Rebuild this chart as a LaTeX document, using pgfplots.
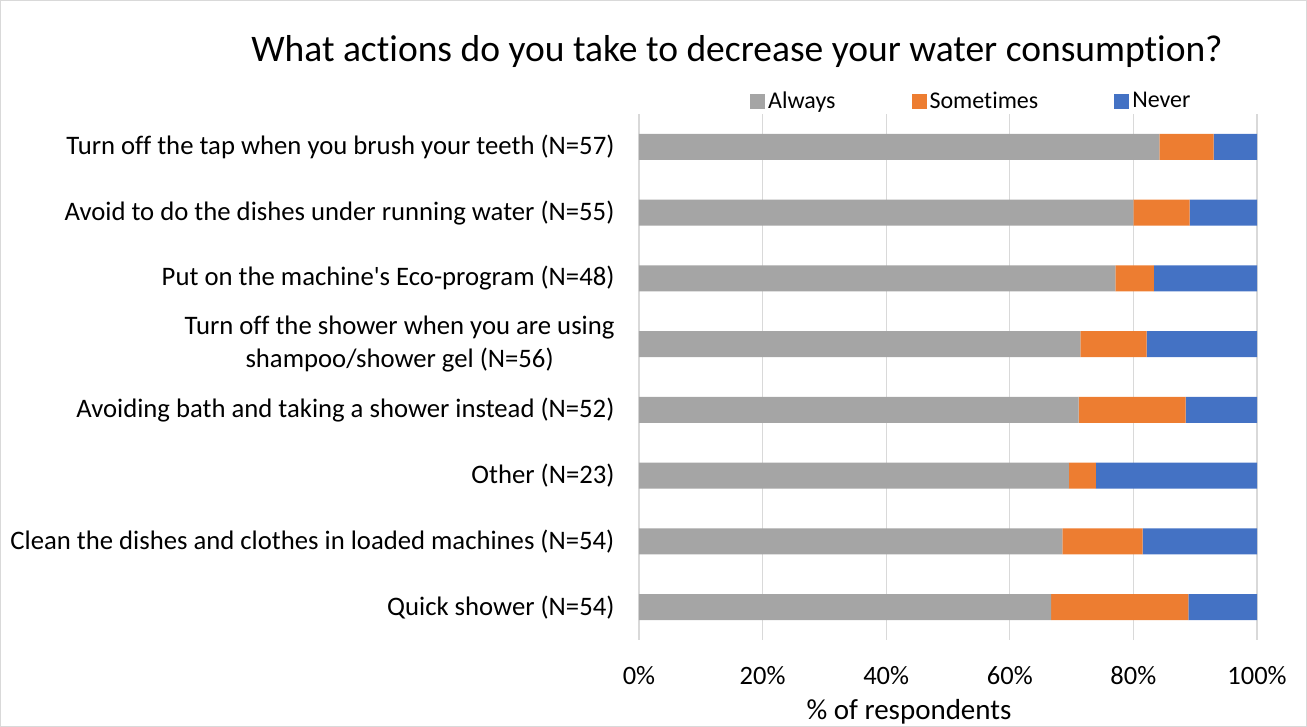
\documentclass[border=0pt]{standalone}
\usepackage{pgfplots}
\pgfplotsset{compat=1.18}
\usepackage{fontspec}
\setmainfont{Carlito}[Ligatures=NoCommon]
\newfontfamily\rawfont{Carlito}[Ligatures=NoCommon]

\definecolor{cAlways}{HTML}{A5A5A5}
\definecolor{cSometimes}{HTML}{ED7D31}
\definecolor{cNever}{HTML}{4472C4}
\definecolor{cGrid}{HTML}{D9D9D9}

\begin{document}
\begin{tikzpicture}[x=1pt,y=1pt]
\useasboundingbox (0,0) rectangle (1307,727);
\draw[cGrid, line width=1.2pt] (0.6,0.6) rectangle (1306.4,726.4);

\node[font=\fontsize{37.5}{44}\selectfont] at (737,675) {What actions do you take to decrease your water consumption?};
\node[font=\fontsize{29}{34}\selectfont] at (909,15) {\% of respondents};

\begin{axis}[
  at={(639pt,87pt)}, anchor=south west,
  scale only axis, width=618pt, height=526pt,
  xbar stacked, bar width=26pt,
  xmin=0, xmax=100, ymin=-0.5, ymax=7.5,
  axis line style={draw=none},
  major tick length=0pt,
  xmajorgrids, grid style={cGrid, line width=1.3pt},
  xtick={0,20,40,60,80,100},
  xticklabel={\pgfmathprintnumber{\tick}\%},
  /pgf/number format/assume math mode=true,
  xticklabel style={font=\fontsize{26.5}{31}\selectfont, yshift=-23pt},
  ytick={0,1,2,3,4,5,6,7},
  yticklabels={
    {Quick shower (N=54)},
    {Clean the dishes and clothes in loaded machines (N=54)},
    {Other (N=23)},
    {Avoiding bath and taking a shower instead (N=52)},
    {Turn off the shower when you are using\\shampoo/shower gel (N=56)},
    {Put on the machine{\rawfont'}s Eco-program (N=48)},
    {Avoid to do the dishes under running water (N=55)},
    {Turn off the tap when you brush your teeth (N=57)}},
  yticklabel style={font=\fontsize{26.7}{33.5}\selectfont, align=center, xshift=-21pt},
  legend columns=3,
  legend style={at={(0.1796,1.0247)}, anchor=west, draw=none, fill=none,
    inner sep=0pt, font=\fontsize{24}{28}\selectfont,
    nodes={inner sep=3pt},
    /tikz/every even column/.append style={column sep=73pt}},
  legend image code/.code={\path[#1, draw=none] (0pt,-7.5pt) rectangle (15pt,7.5pt);},
]
\addplot[fill=cAlways, draw=none] coordinates {
  (66.67,0) (68.52,1) (69.57,2) (71.15,3) (71.43,4) (77.08,5) (80.00,6) (84.21,7)};
\addplot[fill=cSometimes, draw=none] coordinates {
  (22.22,0) (12.96,1) (4.35,2) (17.31,3) (10.71,4) (6.25,5) (9.09,6) (8.77,7)};
\addplot[fill=cNever, draw=none] coordinates {
  (11.11,0) (18.52,1) (26.09,2) (11.54,3) (17.86,4) (16.67,5) (10.91,6) (7.02,7)};
\legend{Always, Sometimes, Never}
\end{axis}
\end{tikzpicture}
\end{document}
